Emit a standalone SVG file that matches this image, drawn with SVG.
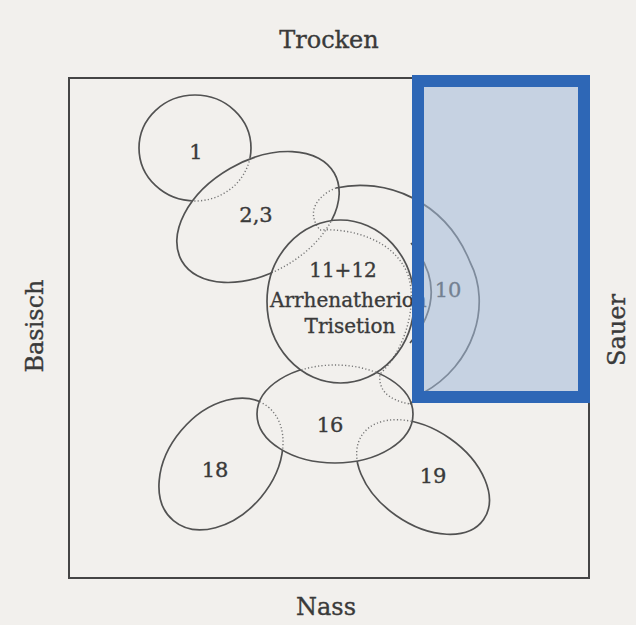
<svg xmlns="http://www.w3.org/2000/svg" width="636" height="625" viewBox="0 0 636 625">
<style>
.ln{fill:none;stroke:#525252;stroke-width:1.7}
.dt{fill:none;stroke:#777;stroke-width:1.4;stroke-dasharray:1.2 2.2}
.lbl{font-family:"DejaVu Serif","Liberation Serif",serif;fill:#3a3a3a;stroke:#3a3a3a;stroke-width:0.35;text-anchor:middle}
.ax{font-size:24px}
.num{font-size:21px}
.big{font-size:20px}
</style>
<defs>
<clipPath id="in23"><ellipse cx="258" cy="217" rx="88" ry="56" transform="rotate(-30 258 217)"/></clipPath>
<clipPath id="out23"><path clip-rule="evenodd" d="M-10,-10H700V700H-10Z M334.2,173 A88,56 -30 1,0 181.8,261 A88,56 -30 1,0 334.2,173 Z"/></clipPath>
<clipPath id="in11"><ellipse cx="340.5" cy="301.5" rx="73.5" ry="81.5"/></clipPath>
<clipPath id="out11"><path clip-rule="evenodd" d="M-10,-10H700V700H-10Z M267,301.5 A73.5,81.5 0 1,0 414,301.5 A73.5,81.5 0 1,0 267,301.5 Z"/></clipPath>
<clipPath id="in16"><ellipse cx="335" cy="414" rx="78" ry="49"/></clipPath>
<clipPath id="out16"><path clip-rule="evenodd" d="M-10,-10H700V700H-10Z M257,414 A78,49 0 1,0 413,414 A78,49 0 1,0 257,414 Z"/></clipPath>
</defs>
<rect x="0" y="0" width="636" height="625" fill="#f2f0ed"/>
<g id="frame">
<rect x="69" y="78" width="520" height="500" fill="none" stroke="#454545" stroke-width="2"/>
</g>
<g id="axis-labels" class="lbl ax">
<text x="329" y="48">Trocken</text>
<text x="326" y="615">Nass</text>
<text transform="translate(43,326) rotate(-90)">Basisch</text>
<text transform="translate(625,330) rotate(-90)">Sauer</text>
</g>
<g id="node-1">
<ellipse class="ln" cx="195" cy="148" rx="56" ry="53" clip-path="url(#out23)"/>
<ellipse class="dt" cx="195" cy="148" rx="56" ry="53" clip-path="url(#in23)"/>
<text class="lbl num" x="196" y="159">1</text>
</g>
<g id="node-23">
<g clip-path="url(#out11)"><ellipse class="ln" cx="258" cy="217" rx="88" ry="56" transform="rotate(-30 258 217)"/></g>
<g clip-path="url(#in11)"><ellipse class="dt" cx="258" cy="217" rx="88" ry="56" transform="rotate(-30 258 217)"/></g>
<text class="lbl num" x="256" y="222">2,3</text>
</g>
<g id="node-10">
<path class="ln" d="M336,188 C385,177 445,200 470,262 C492,305 474,365 423,393 L410,404"/>
<path class="dt" d="M336,188 C318,195 305,212 320,230"/>
<path class="dt" d="M320,230 C352,228 395,240 408,275 C418,305 405,350 380,374 Q377,398 410,404"/>
<text class="lbl num" x="448" y="297">10</text>
</g>
<g id="node-1112">
<ellipse class="ln" cx="340.5" cy="301.5" rx="73.5" ry="81.5"/>
<path class="ln" d="M411,243 Q452,292 410,343"/>
<text class="lbl big" x="343" y="277">11+12</text>
<text class="lbl big" x="270" y="307" style="text-anchor:start">Arrhenatherion</text>
<text class="lbl big" x="350" y="333">Trisetion</text>
</g>
<g id="node-16">
<ellipse class="ln" cx="335" cy="414" rx="78" ry="49" clip-path="url(#out11)"/>
<ellipse class="dt" cx="335" cy="414" rx="78" ry="49" clip-path="url(#in11)"/>
<text class="lbl num" x="330" y="432">16</text>
</g>
<g id="node-18">
<g clip-path="url(#out16)"><ellipse class="ln" cx="221" cy="464" rx="74" ry="52" transform="rotate(-50 221 464)"/></g>
<g clip-path="url(#in16)"><ellipse class="dt" cx="221" cy="464" rx="74" ry="52" transform="rotate(-50 221 464)"/></g>
<text class="lbl num" x="215" y="477">18</text>
</g>
<g id="node-19">
<g clip-path="url(#out16)"><ellipse class="ln" cx="423" cy="477" rx="74" ry="47" transform="rotate(35 423 477)"/></g>
<g clip-path="url(#in16)"><ellipse class="dt" cx="423" cy="477" rx="74" ry="47" transform="rotate(35 423 477)"/></g>
<text class="lbl num" x="433" y="483">19</text>
</g>
<g id="highlight">
<rect x="418" y="81" width="166" height="316" fill="#a3b9d8" fill-opacity="0.55" stroke="#2e67b6" stroke-width="12"/>
</g>
</svg>
